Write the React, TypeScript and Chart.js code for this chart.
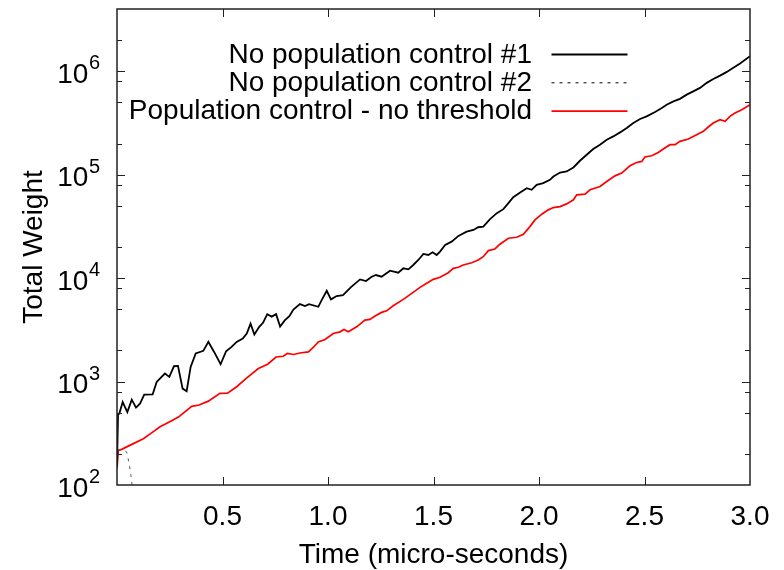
import React, { useEffect, useRef } from 'react';
import { Chart, registerables } from 'chart.js';

Chart.register(...registerables);

const FONT = '"Liberation Sans", Arial, Helvetica, sans-serif';

const seriesLabels = [
  'No population control #1',
  'No population control #2',
  'Population control - no threshold',
];

const xAxisTitle = 'Time (micro-seconds)';
const yAxisTitle = 'Total Weight';
const xTickValues = [0.5, 1.0, 1.5, 2.0, 2.5, 3.0];
const yDecadeExponents = [2, 3, 4, 5, 6];
const yMinorMultipliers = [2, 5, 8];

// No population control #1 (black, solid)
const blackTime = [
  0, 0.005, 0.011, 0.027, 0.049, 0.070, 0.090, 0.109, 0.129, 0.169,
  0.188, 0.227, 0.248, 0.270, 0.289, 0.311, 0.330, 0.349, 0.373, 0.409,
  0.433, 0.461, 0.491, 0.517, 0.543, 0.567, 0.596, 0.615, 0.633, 0.651,
  0.674, 0.692, 0.712, 0.733, 0.754, 0.773, 0.796, 0.817, 0.836, 0.867,
  0.891, 0.910, 0.954, 0.970, 0.994, 1.014, 1.041, 1.071, 1.109, 1.152,
  1.180, 1.207, 1.227, 1.254, 1.294, 1.333, 1.357, 1.381, 1.404, 1.428,
  1.452, 1.475, 1.496, 1.515, 1.531, 1.555, 1.586, 1.618, 1.657, 1.689,
  1.712, 1.736, 1.768, 1.800, 1.831, 1.855, 1.878, 1.918, 1.942, 1.965,
  1.989, 2.020, 2.052, 2.068, 2.100, 2.131, 2.163, 2.194, 2.226, 2.257,
  2.289, 2.321, 2.352, 2.384, 2.416, 2.447, 2.479, 2.510, 2.550, 2.582,
  2.605, 2.637, 2.668, 2.700, 2.731, 2.763, 2.795, 2.826, 2.858, 2.890,
  2.921, 2.953, 3.000,
];
const blackWeight = [
  151, 482, 490, 634, 507, 669, 560, 612, 748, 753,
  991, 1196, 1109, 1407, 1416, 855, 805, 1385, 1868, 1981,
  2420, 1923, 1471, 1966, 2163, 2420, 2610, 2918, 3631, 2853,
  3381, 3698, 4487, 4246, 4487, 3396, 3926, 4295, 4966, 5610,
  5370, 5610, 5284, 6134, 7551, 6232, 6714, 6855, 8199, 9727,
  9372, 10320, 10720, 10320, 11800, 11280, 12450, 12170, 13400, 14970,
  17130, 16740, 17780, 16740, 18030, 20940, 22540, 25590, 28180, 29240,
  31050, 31490, 37150, 42460, 46450, 53090, 60670, 68710, 74130, 71450,
  79810, 82950, 89270, 96050, 105000, 107400, 117500, 136400, 155900, 177000,
  195000, 217800, 234500, 256500, 283100, 316200, 345800, 366400, 404400, 441700,
  475500, 511700, 540800, 594300, 639900, 690700, 772500, 843400, 907900, 986300,
  1079000, 1188000, 1397000,
];

// No population control #2 (dashed) - collapses almost immediately
const dashTime = [0.003, 0.02, 0.035, 0.046, 0.058, 0.066, 0.076];
const dashWeight = [216, 219, 214, 208, 160, 124, 85];

// Population control - no threshold (red)
const redTime = [
  0, 0.006, 0.022, 0.070, 0.125, 0.164, 0.204, 0.259, 0.291, 0.354,
  0.389, 0.433, 0.488, 0.524, 0.567, 0.611, 0.670, 0.714, 0.754, 0.788,
  0.807, 0.836, 0.867, 0.907, 0.930, 0.954, 0.986, 1.025, 1.057, 1.076,
  1.096, 1.136, 1.175, 1.199, 1.223, 1.254, 1.278, 1.309, 1.357, 1.397,
  1.436, 1.468, 1.499, 1.531, 1.570, 1.594, 1.618, 1.641, 1.681, 1.712,
  1.736, 1.760, 1.791, 1.815, 1.855, 1.894, 1.926, 1.957, 1.981, 2.013,
  2.044, 2.068, 2.100, 2.131, 2.163, 2.179, 2.218, 2.242, 2.289, 2.321,
  2.360, 2.392, 2.431, 2.463, 2.487, 2.502, 2.534, 2.565, 2.589, 2.621,
  2.645, 2.668, 2.708, 2.747, 2.779, 2.802, 2.826, 2.858, 2.882, 2.905,
  2.929, 2.961, 3.000,
];
const redWeight = [
  144, 216, 221, 247, 280, 319, 365, 419, 454, 576,
  593, 647, 770, 774, 891, 1069, 1336, 1471, 1727, 1758,
  1868, 1827, 1890, 1936, 2135, 2420, 2553, 2918, 3025, 3190,
  3025, 3381, 3926, 3988, 4295, 4663, 4831, 5406, 6232, 7122,
  8138, 8905, 9727, 10180, 11280, 12450, 12730, 13400, 14100, 14970,
  16110, 18450, 19140, 21280, 24320, 24850, 26570, 31490, 36560, 41500,
  45710, 48090, 49200, 52240, 57150, 63830, 64860, 71450, 76910, 85910,
  97500, 103700, 121900, 131200, 134300, 148200, 152400, 164100, 177000, 195000,
  195000, 209900, 221300, 243800, 262400, 289100, 316200, 340300, 328000, 366400,
  395400, 425600, 475500,
];

const toPoints = (t: number[], v: number[]) => t.map((x, i) => ({ x, y: v[i] }));

const gnuplotDecor = {
  id: 'gnuplotDecor',
  afterDatasetsDraw(chart: any) {
    const { ctx, chartArea: a, scales } = chart;
    const xs = scales.x;
    const ys = scales.y;
    const yMin = ys.min;
    const yMax = ys.max;
    ctx.save();

    // tick marks (inward, mirrored)
    ctx.strokeStyle = '#222';
    ctx.lineWidth = 1;
    ctx.setLineDash([]);
    ctx.beginPath();
    for (const v of xTickValues) {
      const px = Math.round(xs.getPixelForValue(v)) + 0.5;
      if (px >= a.right - 1) continue;
      ctx.moveTo(px, a.bottom);
      ctx.lineTo(px, a.bottom - 8);
      ctx.moveTo(px, a.top);
      ctx.lineTo(px, a.top + 8);
    }
    for (const e of yDecadeExponents) {
      for (const m of [1, ...yMinorMultipliers]) {
        const v = m * Math.pow(10, e);
        if (v <= yMin || v >= yMax) continue;
        const py = Math.round(ys.getPixelForValue(v)) + 0.5;
        const len = m === 1 ? 8 : 5;
        ctx.moveTo(a.left, py);
        ctx.lineTo(a.left + len, py);
        ctx.moveTo(a.right, py);
        ctx.lineTo(a.right - len, py);
      }
    }
    ctx.stroke();

    // frame
    ctx.lineWidth = 1.5;
    ctx.strokeStyle = '#222';
    ctx.strokeRect(a.left, a.top, a.right - a.left, a.bottom - a.top);

    // y tick labels: 10 with superscript exponent
    ctx.fillStyle = '#000';
    ctx.textBaseline = 'alphabetic';
    const labelRight = a.left - 17;
    for (const e of yDecadeExponents) {
      const py = ys.getPixelForValue(Math.pow(10, e));
      const exp = String(e);
      ctx.font = `20px ${FONT}`;
      const supW = ctx.measureText(exp).width;
      ctx.textAlign = 'right';
      ctx.fillText(exp, labelRight, py - 2);
      ctx.font = `28px ${FONT}`;
      ctx.fillText('10', labelRight - supW - 0.5, py + 11.5);
    }

    // legend (gnuplot style: text right-aligned, sample on the right)
    const textRight = a.left + 415;
    const sampleL = a.left + 434.5;
    const sampleR = a.left + 510.5;
    chart.data.datasets.forEach((ds: any, i: number) => {
      const y = a.top + 46 + i * 28.3;
      ctx.font = `28px ${FONT}`;
      ctx.fillStyle = '#000';
      ctx.textAlign = 'right';
      ctx.textBaseline = 'middle';
      ctx.fillText(ds.label, textRight, y);
      ctx.beginPath();
      ctx.strokeStyle = ds.legendColor;
      ctx.lineWidth = ds.borderWidth;
      ctx.setLineDash(ds.borderDash || []);
      ctx.moveTo(sampleL, y - 0.5);
      ctx.lineTo(sampleR, y - 0.5);
      ctx.stroke();
    });
    ctx.restore();
  },
};

export default function App() {
  const canvasRef = useRef<HTMLCanvasElement | null>(null);

  useEffect(() => {
    const canvas = canvasRef.current;
    if (!canvas) return;
    const chart = new Chart(canvas, {
      type: 'line',
      data: {
        datasets: [
          {
            label: seriesLabels[0],
            data: toPoints(blackTime, blackWeight),
            borderColor: '#000000',
            legendColor: '#000000',
            borderWidth: 1.8,
            pointRadius: 0,
            tension: 0,
          } as any,
          {
            label: seriesLabels[1],
            data: toPoints(dashTime, dashWeight),
            borderColor: '#555555',
            legendColor: '#000000',
            borderWidth: 1,
            borderDash: [3, 5],
            pointRadius: 0,
            tension: 0,
          } as any,
          {
            label: seriesLabels[2],
            data: toPoints(redTime, redWeight),
            borderColor: '#ff0000',
            legendColor: '#ff0000',
            borderWidth: 1.7,
            pointRadius: 0,
            tension: 0,
          } as any,
        ],
      },
      options: {
        animation: false,
        responsive: false,
        maintainAspectRatio: false,
        devicePixelRatio: 1,
        layout: { padding: { top: 9, right: 34, left: 0, bottom: 0 } },
        plugins: {
          legend: { display: false },
          tooltip: { enabled: false },
        },
        scales: {
          x: {
            type: 'linear',
            min: 0,
            max: 3,
            grid: { display: false, drawTicks: false },
            border: { display: false },
            ticks: {
              stepSize: 0.5,
              autoSkip: false,
              maxRotation: 0,
              padding: 15,
              color: '#000',
              font: { family: FONT, size: 28 },
              callback: (v: any) => (Number(v) === 0 ? '' : Number(v).toFixed(1)),
            },
            title: {
              display: true,
              text: xAxisTitle,
              color: '#000',
              font: { family: FONT, size: 28 },
              padding: { top: 0, bottom: -2 },
            },
            afterFit: (s: any) => {
              s.height = 85;
              s.paddingLeft = 0;
              s.paddingRight = 0;
            },
          },
          y: {
            type: 'logarithmic',
            min: 100,
            max: 4000000,
            grid: { display: false, drawTicks: false },
            border: { display: false },
            ticks: { display: false },
            title: {
              display: true,
              text: yAxisTitle,
              color: '#000',
              font: { family: FONT, size: 28 },
              padding: { top: 17, bottom: 0 },
            },
            afterFit: (s: any) => {
              s.width = 117;
              s.paddingTop = 0;
              s.paddingBottom = 0;
            },
          },
        },
      } as any,
      plugins: [gnuplotDecor],
    });
    return () => chart.destroy();
  }, []);

  return (
    <div style={{ position: 'fixed', left: 0, top: 0, width: 784, height: 570, background: '#fff' }}>
      <canvas ref={canvasRef} width={784} height={570} style={{ display: 'block' }} />
    </div>
  );
}
